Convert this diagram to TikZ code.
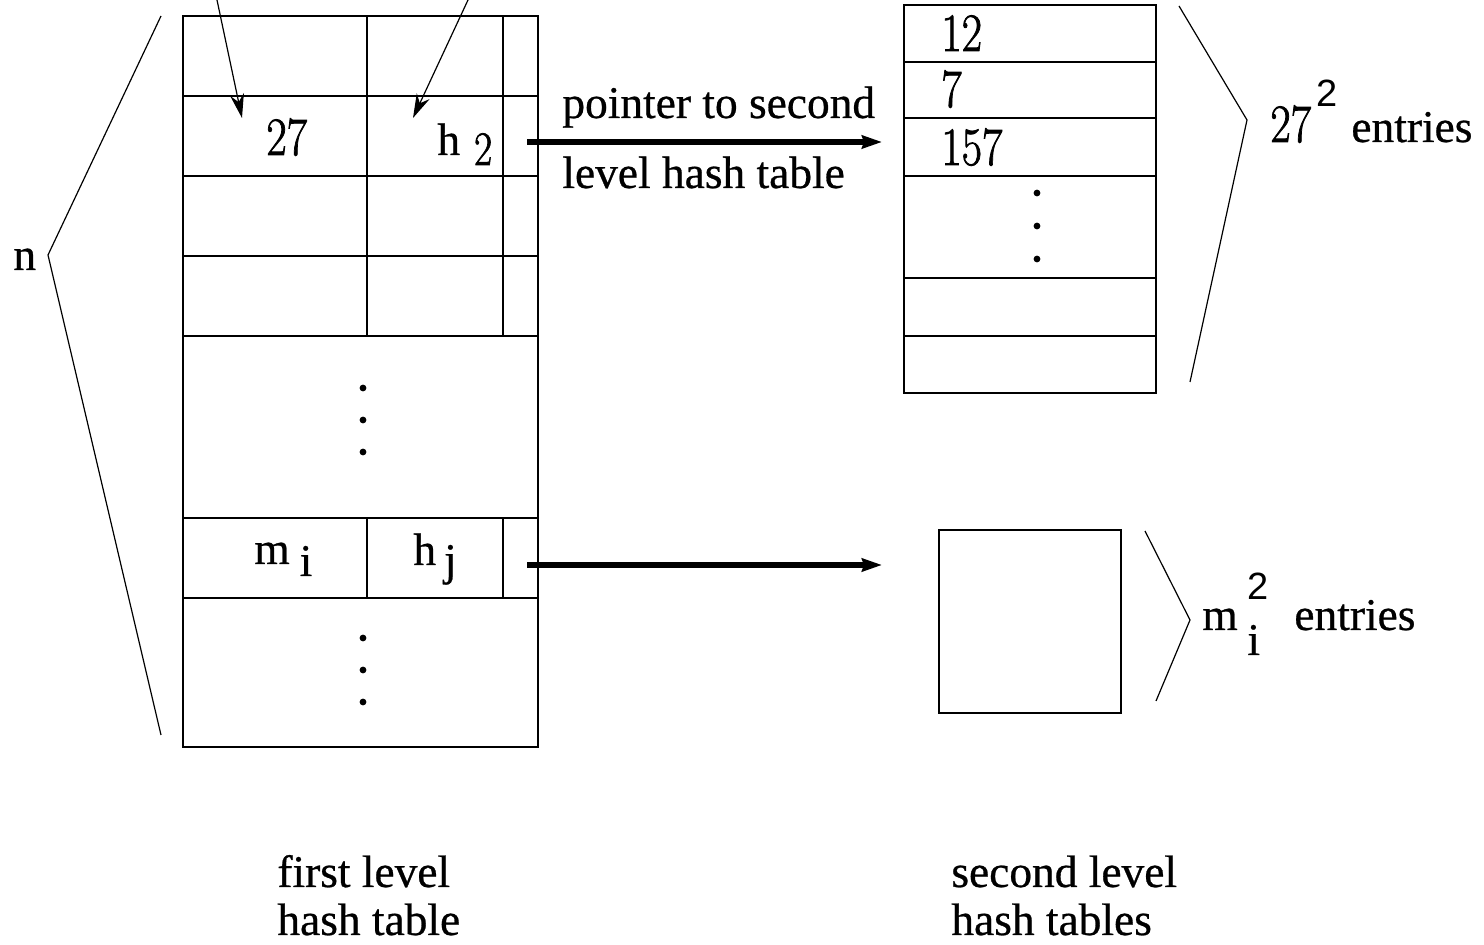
\documentclass[tikz,border=0pt]{standalone}
\usepackage{graphicx}
\usepackage{fontspec}
\setmainfont[RawFeature={embolden=0.6}]{Liberation Serif}
\newfontfamily\lmfont[RawFeature={embolden=1.6}]{Latin Modern Roman}
\newfontfamily\supfont{Liberation Sans}
\newcommand\digs[1]{\scalebox{0.82}[1]{#1}}
\usetikzlibrary{arrows.meta}
\begin{document}
\begin{tikzpicture}[x=0.5pt,y=-0.5pt,
  grid/.style={line width=1pt},
  bracel/.style={line width=0.6pt},
  txt/.style={inner sep=0pt,anchor=base west,font=\fontsize{22.7}{27}\selectfont},
  num/.style={inner sep=0pt,anchor=base west,font=\fontsize{27}{30}\lmfont},
  thinarrow/.style={line width=0.6pt,-{Stealth[length=12pt,width=7pt]}},
  thickarrow/.style={line width=2.6pt,-{Stealth[length=10pt,width=6.5pt,inset=1pt]}},
  dotc/.style={circle,fill=black,inner sep=0pt,minimum size=3.4pt}]
\useasboundingbox (0,0) rectangle (1484,945);
% first level table
\node[draw,grid,inner sep=0pt,minimum width=177.5pt,minimum height=365.5pt] (T1) at (360.5,381.5) {};
\foreach \y in {96,176,256,336,518,598} \draw[grid] (183,\y) -- (538,\y);
\draw[grid] (367,16) -- (367,336);
\draw[grid] (503,16) -- (503,336);
\draw[grid] (367,518) -- (367,598);
\draw[grid] (503,518) -- (503,598);
\foreach \y [count=\k] in {388,420,452} \node[dotc] (da\k) at (363,\y) {};
\foreach \y [count=\k] in {638,670,702} \node[dotc] (db\k) at (363,\y) {};
% cell texts
\node[num] (t27) at (266,155) {\digs{27}};
\node[txt] (h2) at (437,155) {h\hspace{7pt}\raisebox{-5pt}{\lmfont\fontsize{24}{26}\selectfont\digs{2}}};
\node[txt] (mi) at (254,564) {m\hspace{5pt}\raisebox{-6pt}{i}};
\node[txt] (hj) at (413,565) {h\hspace{4pt}\raisebox{-5pt}{j}};
% incoming arrows
\coordinate (in1) at (217,0);
\coordinate (tip1) at (242,118);
\coordinate (in2) at (468,0);
\coordinate (tip2) at (413,118);
\draw[thinarrow] (in1) -- (tip1);
\draw[thinarrow] (in2) -- (tip2);
% left brace
\coordinate (lb1) at (161,16);
\coordinate (lb2) at (48,255);
\coordinate (lb3) at (161,735);
\draw[bracel] (lb1) -- (lb2) -- (lb3);
\node[txt] (n) at (13,270) {n};
% second level table
\node[draw,grid,inner sep=0pt,minimum width=126pt,minimum height=194pt] (T2) at (1030,199) {};
\foreach \y in {62,118,176,278,336} \draw[grid] (904,\y) -- (1156,\y);
\node[num] (v12) at (941,51) {\digs{12}};
\node[num] (v7) at (941,107) {\digs{7}};
\node[num] (v157) at (941,165) {\digs{157}};
\foreach \y [count=\k] in {193,226,259} \node[dotc] (dc\k) at (1037,\y) {};
% pointer arrows
\coordinate (p1s) at (527,142);
\coordinate (p1e) at (882,142);
\draw[thickarrow] (p1s) -- (p1e);
\node[txt] (lab1) at (562,118) {pointer to second};
\node[txt] (lab2) at (562,188) {level hash table};
\coordinate (p2s) at (527,565);
\coordinate (p2e) at (882,565);
\draw[thickarrow] (p2s) -- (p2e);
% right brace 1
\coordinate (rb1) at (1179,6);
\coordinate (rb2) at (1247,120);
\coordinate (rb3) at (1190,382);
\draw[bracel] (rb1) -- (rb2) -- (rb3);
\node[num] (e27) at (1270,142) {\digs{27}};
\node[inner sep=0pt,anchor=base west,font=\fontsize{19}{22}\supfont] (s27) at (1316,107) {2};
\node[txt] (ent1) at (1351,142) {entries};
% small table
\node[draw,grid,inner sep=0pt,minimum width=91pt,minimum height=91.5pt] (T3) at (1030,621.5) {};
\coordinate (rc1) at (1145,531);
\coordinate (rc2) at (1190,620);
\coordinate (rc3) at (1156,701);
\draw[bracel] (rc1) -- (rc2) -- (rc3);
\node[txt] (m2) at (1202,630) {m};
\node[inner sep=0pt,anchor=base west,font=\fontsize{19}{22}\supfont] (s2) at (1247,600) {2};
\node[txt] (i2) at (1247,655) {i};
\node[txt] (ent2) at (1294,630) {entries};
% captions
\node[txt] (c1a) at (277,887) {first level};
\node[txt] (c1b) at (277,935) {hash table};
\node[txt] (c2a) at (951,887) {second level};
\node[txt] (c2b) at (951,935) {hash tables};
\end{tikzpicture}
\end{document}
